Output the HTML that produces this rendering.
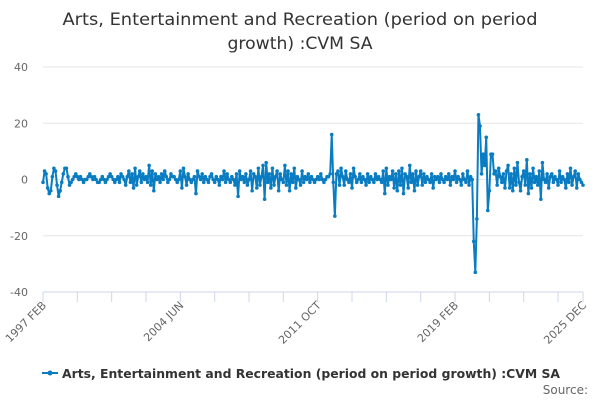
<!DOCTYPE html>
<html><head><meta charset="utf-8"><style>
body{margin:0;background:#fff;font-family:"DejaVu Sans",sans-serif;}
svg text{font-family:"DejaVu Sans",sans-serif;}
</style></head><body>
<svg id="chart" width="600" height="400">
<text x="300" y="25" text-anchor="middle" font-size="17" fill="#333" textLength="475" lengthAdjust="spacingAndGlyphs">Arts, Entertainment and Recreation (period on period</text>
<text x="300" y="49" text-anchor="middle" font-size="17" fill="#333" textLength="145" lengthAdjust="spacingAndGlyphs">growth) :CVM SA</text>
<g id="grid"></g><g id="xaxis"></g><g id="series"></g>
<g>
<line x1="42" y1="373" x2="58" y2="373" stroke="#0a7cc2" stroke-width="2"/>
<circle cx="50" cy="373" r="2.5" fill="#0a7cc2"/>
<text x="62" y="378" font-size="12" font-weight="bold" fill="#333" textLength="498" lengthAdjust="spacingAndGlyphs">Arts, Entertainment and Recreation (period on period growth) :CVM SA</text>
</g>
<text x="588" y="394" text-anchor="end" font-size="12" fill="#666">Source:</text>
</svg>
<script>
const yTicks=[40,20,0,-20,-40];
const xTickLabels=["1997 FEB","2004 JUN","2011 OCT","2019 FEB","2025 DEC"];
const xTickIndex=[0,88,176,264,346];
const values=[
-1,3,2,-3,-5,-4,1,4,3,-2,-6,-4,
-1,2,4,4,1,-2,-1,0,1,2,1,0,
1,0,-1,0,0,1,2,1,0,1,0,-1,
-1,0,1,0,-1,0,1,2,1,0,-1,0,
1,-1,2,1,0,-2,1,3,-1,2,-3,4,
-2,1,3,-1,2,0,1,-1,5,-2,3,-4,
2,0,1,-1,2,0,3,1,-1,0,2,1,
1,0,-1,0,3,-3,4,1,-2,2,0,-1,
0,1,-5,3,1,0,2,-1,1,0,-1,1,
2,0,-1,1,0,-2,1,0,3,-1,2,0,
-1,1,0,-2,2,-6,3,0,1,-1,2,-2,
0,3,-4,2,1,-3,4,-2,1,5,-7,6,
-1,2,-3,4,-2,1,3,-4,2,0,-1,5,
-2,3,-4,2,-1,4,-3,1,0,-2,3,-1,
1,0,2,-1,1,0,-1,0,1,0,2,0,
-1,0,1,1,2,16,-1,-13,2,3,-2,4,
1,-2,3,0,-1,2,-3,4,1,-1,0,2,
-1,1,0,-2,2,-1,1,0,-1,2,0,1,
0,-1,3,-5,4,-2,1,0,3,-3,2,-4,
3,-2,4,-5,2,1,-3,5,-1,2,-4,3,
-2,1,3,-2,2,-1,1,0,-1,2,-3,1,
0,1,-1,2,0,-1,1,0,2,-2,1,0,
3,-1,1,0,-2,2,0,-1,3,-2,1,0,
-22,-33,-14,23,19,2,9,5,15,-11,-4,9,
9,2,3,-2,4,1,-1,2,-3,3,5,-3,
2,-4,4,-2,6,-1,-4,1,3,-2,7,-5,
2,-3,4,-1,1,-2,3,-7,6,0,-1,2,
-3,1,2,-1,1,0,-2,3,-1,1,0,-3,
2,-1,4,-2,1,3,-3,2,0,-1,-2
];
const NS="http://www.w3.org/2000/svg";
const X0=43,X1=583,Y0=292,Y1=67;
const xs=i=>X0+(X1-X0)*i/(values.length-1);
const ys=v=>Y0-(v+40)/80*(Y0-Y1);
function mk(t,a,p){const e=document.createElementNS(NS,t);for(const k in a)e.setAttribute(k,a[k]);p.appendChild(e);return e;}
const grid=document.getElementById('grid');
yTicks.forEach(v=>{
 const l=mk('line',{x1:X0,x2:X1,y1:ys(v),y2:ys(v),stroke:v===-40?'#ccd6eb':'#e6e6e6','stroke-width':1},grid);
 
 
 const t=mk('text',{x:28,y:ys(v)+4,'text-anchor':'end','font-size':11,fill:'#666'},grid);
 t.textContent=v;
 
 
});
const xa=document.getElementById('xaxis');
for(let i=0;i<values.length;i+=22){
 const m=mk('line',{x1:xs(i),x2:xs(i),y1:Y0,y2:Y0+10,stroke:'#ccd6eb'},xa);
 
 
}
const lastT=mk('line',{x1:X1,x2:X1,y1:Y0,y2:Y0+10,stroke:'#ccd6eb'},xa);


xTickLabels.forEach((s,k)=>{
 const x=xs(xTickIndex[k]);
 const t=mk('text',{x:x+4,y:Y0+14,'text-anchor':'end','font-size':11,fill:'#666',transform:`rotate(-45 ${x+4} ${Y0+14})`},xa);
 t.textContent=s;
 
 
});
const sg=document.getElementById('series');
const path=mk('polyline',{points:values.map((v,i)=>xs(i)+','+ys(v)).join(' '),fill:'none',stroke:'#0a7cc2','stroke-width':2,'stroke-linejoin':'round'},sg);


values.forEach((v,i)=>{
 const c=mk('circle',{cx:xs(i),cy:ys(v),r:1.8,fill:'#0a7cc2'},sg);
 
 
});
</script>
</body></html>
